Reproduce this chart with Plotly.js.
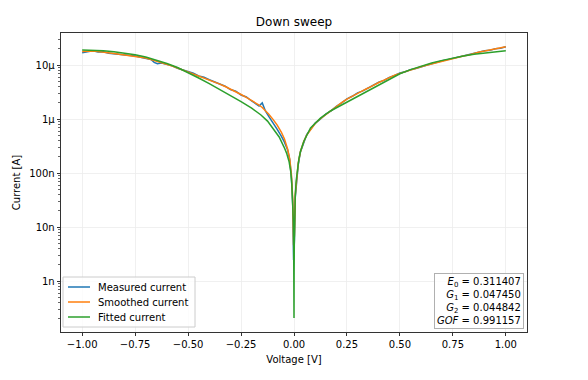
<!DOCTYPE html>
<html>
<head>
<meta charset="utf-8">
<script src="https://cdn.plot.ly/plotly-3.0.1.min.js"></script>
<style>html,body{margin:0;padding:0;background:#fff;}#chart{width:588px;height:380px;}</style>
</head>
<body>
<div id="chart"></div>
<script>
// Voltage sweep points for measured / smoothed current
const voltage = [
  -1.00,-0.975,-0.95,-0.925,-0.90,-0.875,-0.85,-0.825,-0.80,-0.775,
  -0.75,-0.725,-0.70,-0.675,-0.66,-0.645,-0.625,-0.60,-0.575,-0.55,
  -0.525,-0.50,-0.475,-0.45,-0.425,-0.40,-0.375,-0.35,-0.325,-0.30,
  -0.275,-0.25,-0.225,-0.20,-0.18,-0.165,-0.15,-0.135,-0.12,-0.10,
  -0.08,-0.06,-0.045,-0.03,-0.02,-0.012,-0.006,-0.002,0.002,0.006,
  0.012,0.02,0.03,0.045,0.06,0.08,0.10,0.12,0.15,0.175,
  0.20,0.225,0.25,0.275,0.30,0.325,0.35,0.375,0.40,0.425,
  0.45,0.475,0.50,0.525,0.55,0.575,0.60,0.625,0.65,0.675,
  0.70,0.725,0.75,0.775,0.80,0.825,0.85,0.875,0.90,0.925,
  0.95,0.975,1.00
];
const measuredCurrent = [
  1.69e-5,1.79e-5,1.84e-5,1.75e-5,1.76e-5,1.65e-5,1.62e-5,1.59e-5,1.52e-5,1.49e-5,
  1.47e-5,1.39e-5,1.33e-5,1.27e-5,1.12e-5,1.06e-5,1.09e-5,1.03e-5,9.65e-6,8.73e-6,
  8.12e-6,7.35e-6,7.05e-6,6.28e-6,5.94e-6,5.33e-6,4.90e-6,4.37e-6,4.06e-6,3.52e-6,
  3.28e-6,2.79e-6,2.56e-6,2.16e-6,1.93e-6,1.75e-6,1.99e-6,1.41e-6,1.13e-6,8.73e-7,
  6.53e-7,4.84e-7,3.74e-7,2.67e-7,1.75e-7,8.12e-8,2.56e-8,2.45e-9,5.67e-9,3.52e-8,
  7.51e-8,1.44e-7,2.42e-7,3.68e-7,5.15e-7,6.59e-7,8.43e-7,9.65e-7,1.23e-6,1.42e-6,
  1.72e-6,1.99e-6,2.37e-6,2.64e-6,3.06e-6,3.32e-6,3.80e-6,4.20e-6,4.80e-6,5.21e-6,
  5.91e-6,6.40e-6,7.10e-6,7.50e-6,8.20e-6,8.65e-6,9.38e-6,9.85e-6,1.06e-5,1.11e-5,
  1.20e-5,1.26e-5,1.33e-5,1.37e-5,1.48e-5,1.52e-5,1.65e-5,1.73e-5,1.84e-5,1.87e-5,
  2.01e-5,2.04e-5,2.19e-5
];
const smoothedCurrent = [
  1.78e-5,1.81e-5,1.82e-5,1.78e-5,1.75e-5,1.69e-5,1.64e-5,1.58e-5,1.53e-5,1.50e-5,
  1.47e-5,1.41e-5,1.35e-5,1.26e-5,1.21e-5,1.16e-5,1.12e-5,1.04e-5,9.58e-6,8.79e-6,
  8.07e-6,7.41e-6,6.97e-6,6.39e-6,5.87e-6,5.39e-6,4.84e-6,4.44e-6,4.00e-6,3.60e-6,
  3.23e-6,2.85e-6,2.51e-6,2.21e-6,1.98e-6,1.82e-6,1.64e-6,1.44e-6,1.24e-6,9.96e-7,
  7.81e-7,5.75e-7,4.26e-7,2.76e-7,1.81e-7,9.19e-8,3.22e-8,4.60e-9,7.05e-9,3.98e-8,
  8.43e-8,1.53e-7,2.45e-7,3.74e-7,5.06e-7,6.66e-7,8.27e-7,9.80e-7,1.21e-6,1.44e-6,
  1.70e-6,2.02e-6,2.34e-6,2.67e-6,3.03e-6,3.37e-6,3.75e-6,4.26e-6,4.75e-6,5.27e-6,
  5.87e-6,6.47e-6,7.02e-6,7.58e-6,8.15e-6,8.73e-6,9.30e-6,9.91e-6,1.05e-5,1.12e-5,
  1.19e-5,1.26e-5,1.32e-5,1.38e-5,1.47e-5,1.53e-5,1.64e-5,1.75e-5,1.82e-5,1.90e-5,
  1.98e-5,2.07e-5,2.18e-5
];
// Fitted model curve
const fitVoltage = [
  -1.0,-0.95,-0.9,-0.85,-0.8,-0.75,-0.7,-0.65,-0.6,-0.55,
  -0.5,-0.45,-0.4,-0.35,-0.3,-0.25,-0.2,-0.156,-0.125,-0.094,
  -0.07,-0.047,-0.035,-0.023,-0.015,-0.01,-0.006,-0.003,-0.0015,-0.0005,
  0,0.0005,0.0015,0.003,0.006,0.01,0.015,0.023,0.031,0.047,
  0.078,0.125,0.172,0.25,0.3,0.35,0.4,0.45,0.5,0.55,
  0.6,0.65,0.7,0.75,0.8,0.85,0.9,0.95,1.0
];
const fittedCurrent = [
  1.90e-5,1.90e-5,1.84e-5,1.76e-5,1.67e-5,1.55e-5,1.41e-5,1.24e-5,1.07e-5,8.99e-6,
  7.26e-6,5.75e-6,4.53e-6,3.52e-6,2.73e-6,2.10e-6,1.59e-6,1.19e-6,9.16e-7,6.25e-7,
  4.66e-7,3.03e-7,2.34e-7,1.61e-7,1.04e-7,5.97e-8,3.22e-8,1.24e-8,4.60e-9,1.29e-9,
  2.07e-10,1.47e-9,5.36e-9,1.47e-8,3.77e-8,7.05e-8,1.13e-7,1.81e-7,2.56e-7,3.92e-7,
  6.86e-7,1.04e-6,1.41e-6,2.07e-6,2.60e-6,3.37e-6,4.35e-6,5.55e-6,6.89e-6,8.23e-6,
  9.59e-6,1.09e-5,1.22e-5,1.35e-5,1.47e-5,1.58e-5,1.67e-5,1.76e-5,1.84e-5
];
const seriesNames = ["Measured current","Smoothed current","Fitted current"];
const seriesColors = ["#1f77b4","#ff7f0e","#2ca02c"];
const fitParams = [["<i>E</i><sub>0</sub>","0.311407"],["<i>G</i><sub>1</sub>","0.047450"],["<i>G</i><sub>2</sub>","0.044842"],["<i>GOF</i>","0.991157"]];
const xTicks = [-1.0,-0.75,-0.5,-0.25,0,0.25,0.5,0.75,1.0];

const font = "DejaVu Sans, sans-serif";
const W = 588, H = 380, ML = 61, MR = 61, MT = 33, MB = 48;
const PW = W - ML - MR, PH = H - MT - MB;
const px = v => (v - ML) / PW;       // pixel x -> paper x
const py = v => (H - MB - v) / PH;   // pixel y -> paper y

const traces = [
  {x: voltage, y: measuredCurrent, name: seriesNames[0], mode: "lines", line: {color: seriesColors[0], width: 1.5}},
  {x: voltage, y: smoothedCurrent, name: seriesNames[1], mode: "lines", line: {color: seriesColors[1], width: 1.5}},
  {x: fitVoltage, y: fittedCurrent, name: seriesNames[2], mode: "lines", line: {color: seriesColors[2], width: 1.5}}
];

// custom legend (matplotlib-like compact spacing)
const shapes = [{
  type: "rect", xref: "paper", yref: "paper", layer: "above",
  x0: px(63), x1: px(195), y0: py(327), y1: py(277),
  fillcolor: "rgba(255,255,255,0.8)", line: {color: "#cccccc", width: 1}
}];
const annotations = [];
const rowY = [287, 302, 317];
seriesNames.forEach((n, i) => {
  shapes.push({type: "line", xref: "paper", yref: "paper", layer: "above",
    x0: px(68), x1: px(90), y0: py(rowY[i]), y1: py(rowY[i]),
    line: {color: seriesColors[i], width: 1.5}});
  annotations.push({xref: "paper", yref: "paper", x: px(97), y: py(rowY[i]),
    xanchor: "left", yanchor: "middle", text: n, showarrow: false,
    font: {family: font, size: 10, color: "#000"}, borderpad: 0});
});
annotations.push({
  xref: "paper", yref: "paper", x: px(524), y: py(329), xanchor: "right", yanchor: "bottom",
  text: fitParams.map(p => p[0] + " = " + p[1]).join("<br>"),
  align: "right", showarrow: false,
  font: {family: font, size: 10, color: "#000"},
  bgcolor: "rgba(255,255,255,0.8)", bordercolor: "#b0b0b0", borderwidth: 1, borderpad: 2
});

const layout = {
  width: W, height: H,
  margin: {l: ML, r: MR, t: MT, b: MB, pad: 0},
  paper_bgcolor: "#fff", plot_bgcolor: "#fff",
  font: {family: font, size: 10, color: "#000"},
  title: {text: "Down sweep", font: {family: font, size: 12, color: "#000"}, x: 0.5, xanchor: "center", y: 1 - 22/H, yanchor: "middle"},
  xaxis: {
    range: [-1.1, 1.1], tickmode: "array", tickvals: xTicks,
    ticktext: xTicks.map(v => (v < 0 ? "\u2212" : "") + Math.abs(v).toFixed(2)),
    ticks: "outside", ticklen: 3.5, tickwidth: 0.8, tickcolor: "#000",
    showline: true, mirror: true, linecolor: "#000", linewidth: 0.8,
    showgrid: true, gridcolor: "#ececec", gridwidth: 0.8, zeroline: false,
    title: {text: "Voltage [V]", font: {family: font, size: 10}, standoff: 6},
    tickfont: {family: font, size: 10}
  },
  yaxis: {
    type: "log", range: [Math.log10(1.14e-10), Math.log10(3.92e-5)],
    dtick: 1, exponentformat: "SI",
    ticks: "outside", ticklen: 3.5, tickwidth: 0.8, tickcolor: "#000",
    minor: {ticks: "outside", ticklen: 2, tickwidth: 0.6, tickcolor: "#000", showgrid: false},
    showline: true, mirror: true, linecolor: "#000", linewidth: 0.8,
    showgrid: true, gridcolor: "#ececec", gridwidth: 0.8, zeroline: false,
    title: {text: "Current [A]", font: {family: font, size: 10}, standoff: 6},
    tickfont: {family: font, size: 10}
  },
  showlegend: false,
  shapes: shapes,
  annotations: annotations
};
Plotly.newPlot("chart", traces, layout, {staticPlot: true, displayModeBar: false});
</script>
</body>
</html>
